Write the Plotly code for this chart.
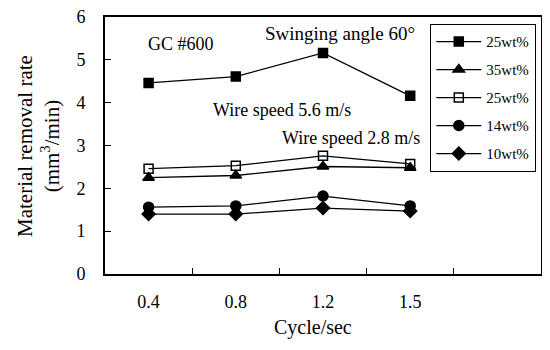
import plotly.graph_objects as go

categories = ["0.4", "0.8", "1.2", "1.5"]
series_names = ["25wt%", "35wt%", "25wt%", "14wt%", "10wt%"]
sq_filled = [4.46, 4.61, 5.16, 4.16]
triangle = [2.25, 2.30, 2.51, 2.48]
sq_open = [2.46, 2.53, 2.76, 2.57]
circle = [1.56, 1.59, 1.82, 1.59]
diamond = [1.40, 1.40, 1.54, 1.47]

values = [sq_filled, triangle, sq_open, circle, diamond]
symbols = ["square", "triangle-up", "square-open", "circle", "diamond"]
sizes = [9, 10, 9, 10, 10]

FONT = "Liberation Serif, Times New Roman, serif"
xpos = list(range(len(categories)))

# page body has an 8px default margin; work in screen pixels and convert
OFF = 8
W, H = 534, 334
PLOT_L, PLOT_R, PLOT_T, PLOT_B = 105, 541, 17, 274  # screen px
L = PLOT_L - OFF
T = PLOT_T - OFF
R = W - (PLOT_R - OFF)
B = H - (PLOT_B - OFF)
PW, PH = PLOT_R - PLOT_L, PLOT_B - PLOT_T


def px2paper(px, py):
    return (px - PLOT_L) / PW, (PLOT_B - py) / PH


fig = go.Figure()
for i, (name, vals, sym, sz) in enumerate(zip(series_names, values, symbols, sizes)):
    fig.add_trace(go.Scatter(
        x=xpos, y=vals, name=name, mode="lines+markers", legendgroup=f"g{i}",
        line=dict(color="black", width=1.3),
        marker=dict(symbol=sym, size=sz, color="black",
                    line=dict(color="black", width=1.5)),
    ))

# invisible trace for secondary x axis (boundary ticks)
fig.add_trace(go.Scatter(x=[0.5], y=[0], xaxis="x2", showlegend=False,
                         mode="markers", marker=dict(opacity=0), hoverinfo="skip"))

fig.update_layout(
    width=W, height=H,
    margin=dict(l=L, r=R, t=T, b=B),
    paper_bgcolor="white", plot_bgcolor="white",
    font=dict(family=FONT, size=18, color="black"),
    xaxis=dict(range=[-0.5, 4.5], tickvals=xpos, ticktext=categories,
               ticks="", showgrid=False, zeroline=False, automargin=False,
               showline=True, linecolor="black", linewidth=1.6, mirror=True,
               tickfont=dict(size=18), ticklabelstandoff=11),
    xaxis2=dict(range=[-0.5, 4.5], overlaying="x", side="bottom",
                tickvals=[0.5, 1.5, 2.5, 3.5], ticks="inside", ticklen=6,
                tickcolor="black", tickwidth=1.3, showticklabels=False, showgrid=False,
                zeroline=False, showline=False, automargin=False),
    yaxis=dict(range=[0, 6], dtick=1, ticks="inside", ticklen=6, tickcolor="black",
               tickwidth=1.3, automargin=False, ticklabeloverflow="allow",
               showgrid=False, zeroline=False, showline=True, linecolor="black",
               linewidth=1.6, mirror=True, tickfont=dict(size=18),
               ticklabelstandoff=14),
    legend=dict(x=(430 - PLOT_L) / PW, y=px2paper(0, 24)[1], xanchor="left", yanchor="top",
                bordercolor="black", borderwidth=1.3, bgcolor="white",
                font=dict(size=15), tracegroupgap=5.5, itemwidth=45),
    showlegend=True,
)

annots = [
    ("GC #600", 146, 44, 18),
    ("Swinging angle 60°", 263, 33, 19),
    ("Wire speed 5.6 m/s", 211, 110, 18),
    ("Wire speed 2.8 m/s", 280, 138, 18),
]
for text, px, py, fs in annots:
    x, y = px2paper(px, py)
    fig.add_annotation(text=text, x=x, y=y, xref="paper", yref="paper",
                       xanchor="left", yanchor="middle", showarrow=False,
                       font=dict(size=fs, family=FONT))

# axis titles
x, y = px2paper(313, 327)
fig.add_annotation(text="Cycle/sec", x=x, y=y, xref="paper", yref="paper",
                   xanchor="center", yanchor="middle", showarrow=False,
                   font=dict(size=20, family=FONT))
x, y = px2paper(38, 146)
fig.add_annotation(text="Material removal rate<br>(mm<sup>3</sup>/min)", x=x, y=y,
                   xref="paper", yref="paper", textangle=-90,
                   xanchor="center", yanchor="middle", showarrow=False,
                   font=dict(size=21, family=FONT))

fig.write_html("out.html")
